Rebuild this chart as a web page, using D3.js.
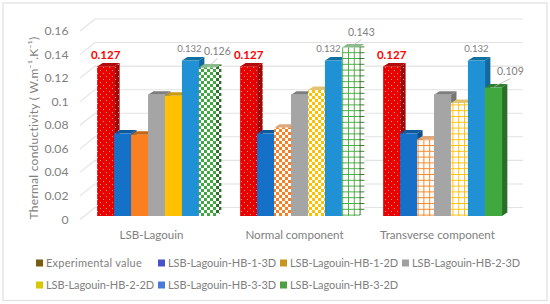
<!DOCTYPE html>
<html><head><meta charset="utf-8">
<script src="https://cdn.jsdelivr.net/npm/d3@7/dist/d3.min.js"></script>
<style>html,body{margin:0;padding:0;background:#fff}svg{display:block}text{font-family:Lato,sans-serif}</style>
</head><body><svg id="c" width="550" height="304"></svg>
<script>
const categories = ["LSB-Lagouin","Normal component","Transverse component"];
const seriesNames = ["Experimental value","LSB-Lagouin-HB-1-3D","LSB-Lagouin-HB-1-2D","LSB-Lagouin-HB-2-3D","LSB-Lagouin-HB-2-2D","LSB-Lagouin-HB-3-3D","LSB-Lagouin-HB-3-2D"];
const experimental = [0.127,0.127,0.127];
const hb13d = [0.07,0.07,0.07];
const hb12d = [0.069,0.075,0.065];
const hb23d = [0.103,0.103,0.103];
const hb22d = [0.102,0.107,0.096];
const hb33d = [0.132,0.132,0.132];
const hb32d = [0.126,0.143,0.109];
const series = [experimental,hb13d,hb12d,hb23d,hb22d,hb33d,hb32d];
const yTicks = [0,0.02,0.04,0.06,0.08,0.1,0.12,0.14,0.16];
const colors = ["#e60000","#1570c8","#f97f20","#a5a5a5","#ffc000","#2191d5","#3fa83f"];
const sideColors = ["#a00808","#0d4f8c","#b25a14","#767676","#b38600","#116a9e","#2a6e2a"];
const topColors = ["#b00a0a","#0f5a9c","#c4661a","#7e7e7e","#c89a10","#12709f","#2f7f2f"];
const legendColors = ["#7a5c10","#4a50c8","#c8961e","#a0a0a0","#d8c800","#4a78d8","#4ca040"];
const fills = [
 ["dots","dots","dots"],
 ["solid","solid","solid"],
 ["solid","check","grid"],
 ["solid","solid","solid"],
 ["solid","check","grid"],
 ["solid","solid","solid"],
 ["check","grid","solid"]
];
const valueLabels = [
 {s:0,c:0,t:"0.127",dx:0,dy:-7},{s:0,c:1,t:"0.127",dx:0,dy:-7},{s:0,c:2,t:"0.127",dx:0,dy:-7},
 {s:5,c:0,t:"0.132",dx:-1,dy:-8},{s:5,c:1,t:"0.132",dx:-5,dy:-8},{s:5,c:2,t:"0.132",dx:0,dy:-8},
 {s:6,c:0,t:"0.126",dx:10,dy:-13,lead:1},{s:6,c:1,t:"0.143",dx:11,dy:-12,lead:1},{s:6,c:2,t:"0.109",dx:17,dy:-13,lead:1}
];

const svg = d3.select("#c");
const defs = svg.append("defs");
const DX=5.5, DY=-3.5;
const y = d3.scaleLinear().domain([0,0.16]).range([216,27.5]);
const x0 = d3.scaleBand().domain(d3.range(3)).range([85,514]).paddingInner(0.17).paddingOuter(0.085);
const x1 = d3.scaleBand().domain(d3.range(7)).range([0,x0.bandwidth()]);

function pat(id,color,kind){
  const size = kind==="grid"?5.8:6;
  const p = defs.append("pattern").attr("id",id).attr("patternUnits","userSpaceOnUse").attr("width",size).attr("height",size);
  if(kind==="dots"){
    p.append("rect").attr("width",size).attr("height",size).attr("fill",color);
    p.append("circle").attr("cx",1.5).attr("cy",1.5).attr("r",.55).attr("fill","#ffb0b0");
    p.append("circle").attr("cx",4.5).attr("cy",4.5).attr("r",.55).attr("fill","#ffb0b0");
  } else if(kind==="check"){
    p.append("rect").attr("width",size).attr("height",size).attr("fill","#fff");
    p.append("rect").attr("width",3).attr("height",3).attr("fill",color);
    p.append("rect").attr("x",3).attr("y",3).attr("width",3).attr("height",3).attr("fill",color);
  } else {
    p.append("rect").attr("width",size).attr("height",size).attr("fill","#fffdfa");
    p.append("rect").attr("width",size).attr("height",.9).attr("fill",color);
    p.append("rect").attr("width",.9).attr("height",size).attr("fill",color);
  }
}
colors.forEach((col,i)=>{
  ["dots","check","grid"].forEach(k=>{
    pat(`f-${k}-${i}`,col,k);
    pat(`s-${k}-${i}`,sideColors[i],k);
  });
});
const paint=(pre,k,i,solid)=> k==="solid"?solid:`url(#${pre}-${k}-${i})`;

// frame
svg.append("rect").attr("x",3).attr("y",3).attr("width",544).attr("height",297.5)
  .attr("fill","#fff").attr("stroke","#e0e0e0").attr("stroke-width",1.2);

// gridlines
const xL=80,xB=95,xR=523;
const grid = svg.append("g").attr("fill","none").attr("stroke","#e2e2e2").attr("stroke-width",1.1);
yTicks.forEach(t=>{
  const yy=y(t);
  grid.append("path").attr("d",`M${xL},${yy+3.5}L${xB},${yy-8.5}L${xR},${yy-8.5}`);
});
svg.append("g").selectAll("text").data(yTicks).join("text")
  .attr("x",68.5).attr("y",t=>y(t)+7.5).attr("text-anchor","end")
  .attr("font-size",12.2).attr("fill","#808080").text(t=>String(t));

svg.append("text").attr("transform","translate(38,128) rotate(-90)").attr("text-anchor","middle")
  .attr("font-size",12).attr("letter-spacing",0.25).attr("fill","#808080").text("Thermal conductivity ( W.m⁻¹.K⁻¹)");

// bars
categories.forEach((cat,c)=>{
  const g=svg.append("g");
  series.forEach((vals,s)=>{
    const v=vals[c], xa=x0(c)+x1(s), w=x1.bandwidth(), yt=y(v), yb=y(0), k=fills[s][c];
    const topFill = (k==="check"||k==="grid") ? d3.interpolateRgb(colors[s],"#c8c8c8")(0.55) : topColors[s];
    g.append("polygon").attr("points",[[xa+w,yt],[xa+w+DX,yt+DY],[xa+w+DX,yb+DY],[xa+w,yb]].join(" "))
      .attr("fill",paint("s",k,s,sideColors[s]));
    g.append("polygon").attr("points",[[xa,yt],[xa+DX,yt+DY],[xa+w+DX,yt+DY],[xa+w,yt]].join(" "))
      .attr("fill",topFill);
    g.append("rect").attr("x",xa).attr("y",yt).attr("width",w+.3).attr("height",yb-yt)
      .attr("fill",paint("f",k,s,colors[s]));
  });
});

// value labels
valueLabels.forEach(l=>{
  const xa=x0(l.c)+x1(l.s)+x1.bandwidth()/2, yt=y(series[l.s][l.c]);
  const big=l.s===0;
  if(l.lead){
    svg.append("line").attr("x1",xa+l.dx).attr("y1",yt+l.dy+4).attr("x2",xa+1).attr("y2",yt-1)
      .attr("stroke","#b5b5b5").attr("stroke-width",.8);
  }
  svg.append("text").attr("x",xa+l.dx).attr("y",yt+l.dy)
    .attr("text-anchor","middle").attr("font-size",big?11.5:(l.lead?10.5:9.6))
    .attr("font-weight",big?700:400).attr("fill",big?"#ff0000":"#808080").text(l.t);
});

// category labels
svg.append("g").selectAll("text").data(categories).join("text")
  .attr("x",(d,i)=>x0(i)+x0.bandwidth()/2-5).attr("y",239)
  .attr("text-anchor","middle").attr("font-size",11.6).attr("fill","#808080").text(d=>d);

// legend
const legendX=d3.scaleLinear().domain([0,1]).range([36,158]);
const lg=svg.append("g").selectAll("g").data(seriesNames).join("g")
  .attr("transform",(d,i)=>`translate(${legendX(i%4)},${i<4?263:285})`);
lg.append("rect").attr("x",0).attr("y",-3.5).attr("width",7).attr("height",7).attr("fill",(d,i)=>legendColors[i]);
lg.append("text").attr("x",10).attr("y",4).attr("font-size",11).attr("letter-spacing",(d,i)=>i===0?0.25:-0.08)
  .attr("fill","#808080").text(d=>d);
</script></body></html>
